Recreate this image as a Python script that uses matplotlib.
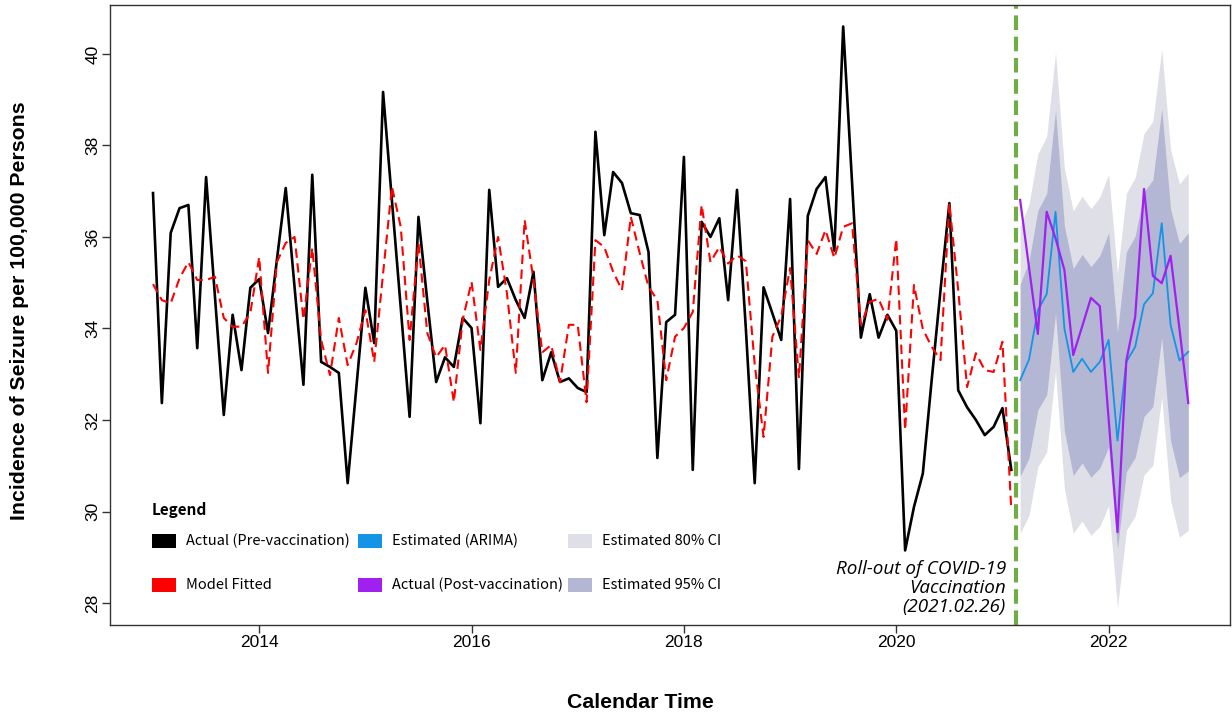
import numpy as np
import matplotlib
matplotlib.use('Agg')
import matplotlib.pyplot as plt
from matplotlib.patches import Rectangle

# Monthly incidence, Jan 2013 - Feb 2021 (pre-vaccination)
actual_pre = [36.96, 32.37, 36.09, 36.63, 36.70, 33.57, 37.31, 34.70, 32.11, 34.30,
              33.09, 34.89, 35.08, 33.90, 35.50, 37.07, 34.90, 32.77, 37.36, 33.27,
              33.16, 33.03, 30.62, 32.75, 34.89, 33.68, 39.17, 36.80, 34.45, 32.07,
              36.44, 34.60, 32.83, 33.37, 33.16, 34.23, 34.01, 31.93, 37.03, 34.91,
              35.10, 34.62, 34.23, 35.24, 32.87, 33.48, 32.83, 32.91, 32.70, 32.61,
              38.30, 36.04, 37.42, 37.18, 36.52, 36.48, 35.67, 31.17, 34.14, 34.30,
              37.75, 30.91, 36.33, 36.00, 36.41, 34.62, 37.03, 34.00, 30.62, 34.90,
              34.33, 33.75, 36.83, 30.93, 36.46, 37.05, 37.31, 35.70, 40.60, 37.20,
              33.80, 34.75, 33.80, 34.30, 33.95, 29.15, 30.10, 30.83, 32.87, 34.84,
              36.74, 32.65, 32.28, 32.00, 31.67, 31.85, 32.26, 30.91]

model_fitted = [34.97, 34.62, 34.55, 35.10, 35.45, 35.06, 35.06, 35.13, 34.23, 34.04,
                34.04, 34.34, 35.56, 33.03, 35.45, 35.87, 36.00, 34.20, 35.76, 33.75,
                32.98, 34.23, 33.20, 33.68, 34.40, 33.27, 35.20, 37.10, 36.22, 33.75,
                35.87, 33.90, 33.37, 33.64, 32.39, 34.19, 35.02, 33.53, 35.06, 36.00,
                34.77, 33.03, 36.37, 35.06, 33.48, 33.64, 32.83, 34.08, 34.08, 32.39,
                35.93, 35.78, 35.24, 34.84, 36.44, 35.65, 34.91, 34.62, 32.87, 33.82,
                34.01, 34.36, 36.70, 35.45, 35.78, 35.42, 35.60, 35.47, 33.22, 31.63,
                33.82, 34.27, 35.32, 32.92, 35.93, 35.63, 36.15, 35.54, 36.22, 36.30,
                34.08, 34.58, 34.65, 34.19, 35.96, 31.78, 34.95, 33.99, 33.60, 33.31,
                36.74, 34.84, 32.72, 33.46, 33.09, 33.05, 33.71, 30.03]

# Mar 2021 - Oct 2022 (post-vaccination)
actual_post = [36.81, 35.34, 33.88, 36.55, 35.97, 35.28, 33.42, 34.04, 34.67, 34.49,
               32.02, 29.55, 33.30, 34.25, 37.05, 35.15, 34.99, 35.59, 34.00, 32.37]
arima = [32.87, 33.32, 34.40, 34.75, 36.55, 34.00, 33.05, 33.34, 33.05, 33.27,
         33.75, 31.55, 33.27, 33.60, 34.53, 34.77, 36.30, 34.08, 33.30, 33.49]
inner_lo = [30.77, 31.17, 32.22, 32.55, 34.33, 31.76, 30.79, 31.06, 30.75, 30.95,
            31.41, 29.19, 30.87, 31.18, 32.08, 32.29, 33.80, 31.55, 30.74, 30.89]
inner_hi = [34.97, 35.47, 36.58, 36.95, 38.77, 36.24, 35.31, 35.62, 35.35, 35.59,
            36.09, 33.91, 35.67, 36.02, 36.98, 37.25, 38.80, 36.61, 35.86, 36.09]
outer_lo = [29.52, 29.92, 30.98, 31.30, 33.07, 30.50, 29.53, 29.79, 29.48, 29.67,
            30.13, 27.90, 29.59, 29.90, 30.80, 31.01, 32.50, 30.25, 29.44, 29.59]
outer_hi = [36.22, 36.72, 37.82, 38.20, 40.03, 37.50, 36.57, 36.89, 36.62, 36.87,
            37.37, 35.20, 36.95, 37.30, 38.26, 38.53, 40.10, 37.91, 37.16, 37.39]

t_pre = 2013 + np.arange(len(actual_pre)) / 12
t_post = 2013 + (len(actual_pre) + np.arange(len(actual_post))) / 12
vaccine_date = 2021.13

c_blue = '#1394E6'
c_purple = '#A020F0'
c_outer = '#DFDFE7'
c_inner = '#B4B7D4'

fig = plt.figure(figsize=(12.32, 7.19), dpi=100)
ax = fig.add_axes([110 / 1232, 1 - 625 / 719, 1120 / 1232, 620 / 719])

ax.fill_between(t_post, outer_lo, outer_hi, color=c_outer, linewidth=0)
ax.fill_between(t_post, inner_lo, inner_hi, color=c_inner, linewidth=0)

ax.plot(t_pre, actual_pre, color='black', lw=1.9)
ax.plot(t_pre, model_fitted, color='red', lw=1.5, linestyle=(0, (4.5, 2.6)))
ax.plot(t_post, arima, color=c_blue, lw=1.3)
ax.plot(t_post, actual_post, color=c_purple, lw=1.6)

ax.axvline(vaccine_date, color='#70AD47', lw=3, linestyle=(0, (3.5, 1.6)))

ax.set_xlim(2012.595, 2023.143)
ax.set_ylim(27.52, 41.07)
ax.set_xticks([2014, 2016, 2018, 2020, 2022])
ax.set_yticks([28, 30, 32, 34, 36, 38, 40])

tick_font = ['Liberation Sans', 'DejaVu Sans']
ax.set_xticklabels(['2014', '2016', '2018', '2020', '2022'], family=tick_font, fontsize=12.5)
ax.set_yticklabels(['28', '30', '32', '34', '36', '38', '40'], family=tick_font, fontsize=12.5,
                   rotation=90, va='center')
ax.tick_params(axis='x', direction='out', length=6, width=1, color='#333333', pad=1.5)
ax.tick_params(axis='y', direction='out', length=6, width=1, color='#333333', pad=1)
for s in ax.spines.values():
    s.set_linewidth(1)
    s.set_color('#333333')

ax.set_xlabel('Calendar Time', family=tick_font, fontsize=15.3, fontweight='bold')
ax.set_ylabel('Incidence of Seizure per 100,000 Persons', family=tick_font, fontsize=15.3,
              fontweight='bold')
ax.xaxis.set_label_coords((640 - 110) / 1120, (625 - 693) / 620)
ax.yaxis.set_label_coords((29 - 110) / 1120, (625 - 311) / 620)

# annotation for vaccine roll-out
ax.text(1006 / 1232, 1 - 588 / 719, 'Roll-out of COVID-19\nVaccination\n(2021.02.26)',
        transform=fig.transFigure, ha='right', va='center', fontsize=13.6, style='italic',
        family=['Open Sans', 'DejaVu Sans'], linespacing=1.08)

# legend drawn by hand
leg_font = ['Noto Sans CJK KR', 'DejaVu Sans']
fig.text(152 / 1232, 1 - 510 / 719, 'Legend', fontsize=11, fontweight='bold',
         family=leg_font, va='center', ha='left')
entries = [
    (152, 541, 'black', 'Actual (Pre-vaccination)'),
    (152, 585, 'red', 'Model Fitted'),
    (358, 541, c_blue, 'Estimated (ARIMA)'),
    (358, 585, c_purple, 'Actual (Post-vaccination)'),
    (568, 541, c_outer, 'Estimated 80% CI'),
    (568, 585, c_inner, 'Estimated 95% CI'),
]
for x, y, col, label in entries:
    fig.patches.append(Rectangle((x / 1232, 1 - (y + 7) / 719), 24 / 1232, 14 / 719,
                                 transform=fig.transFigure, facecolor=col, edgecolor='none'))
    fig.text((x + 34) / 1232, 1 - y / 719, label, fontsize=10.5, family=leg_font,
             va='center', ha='left')

plt.savefig('out.png', dpi=100)
